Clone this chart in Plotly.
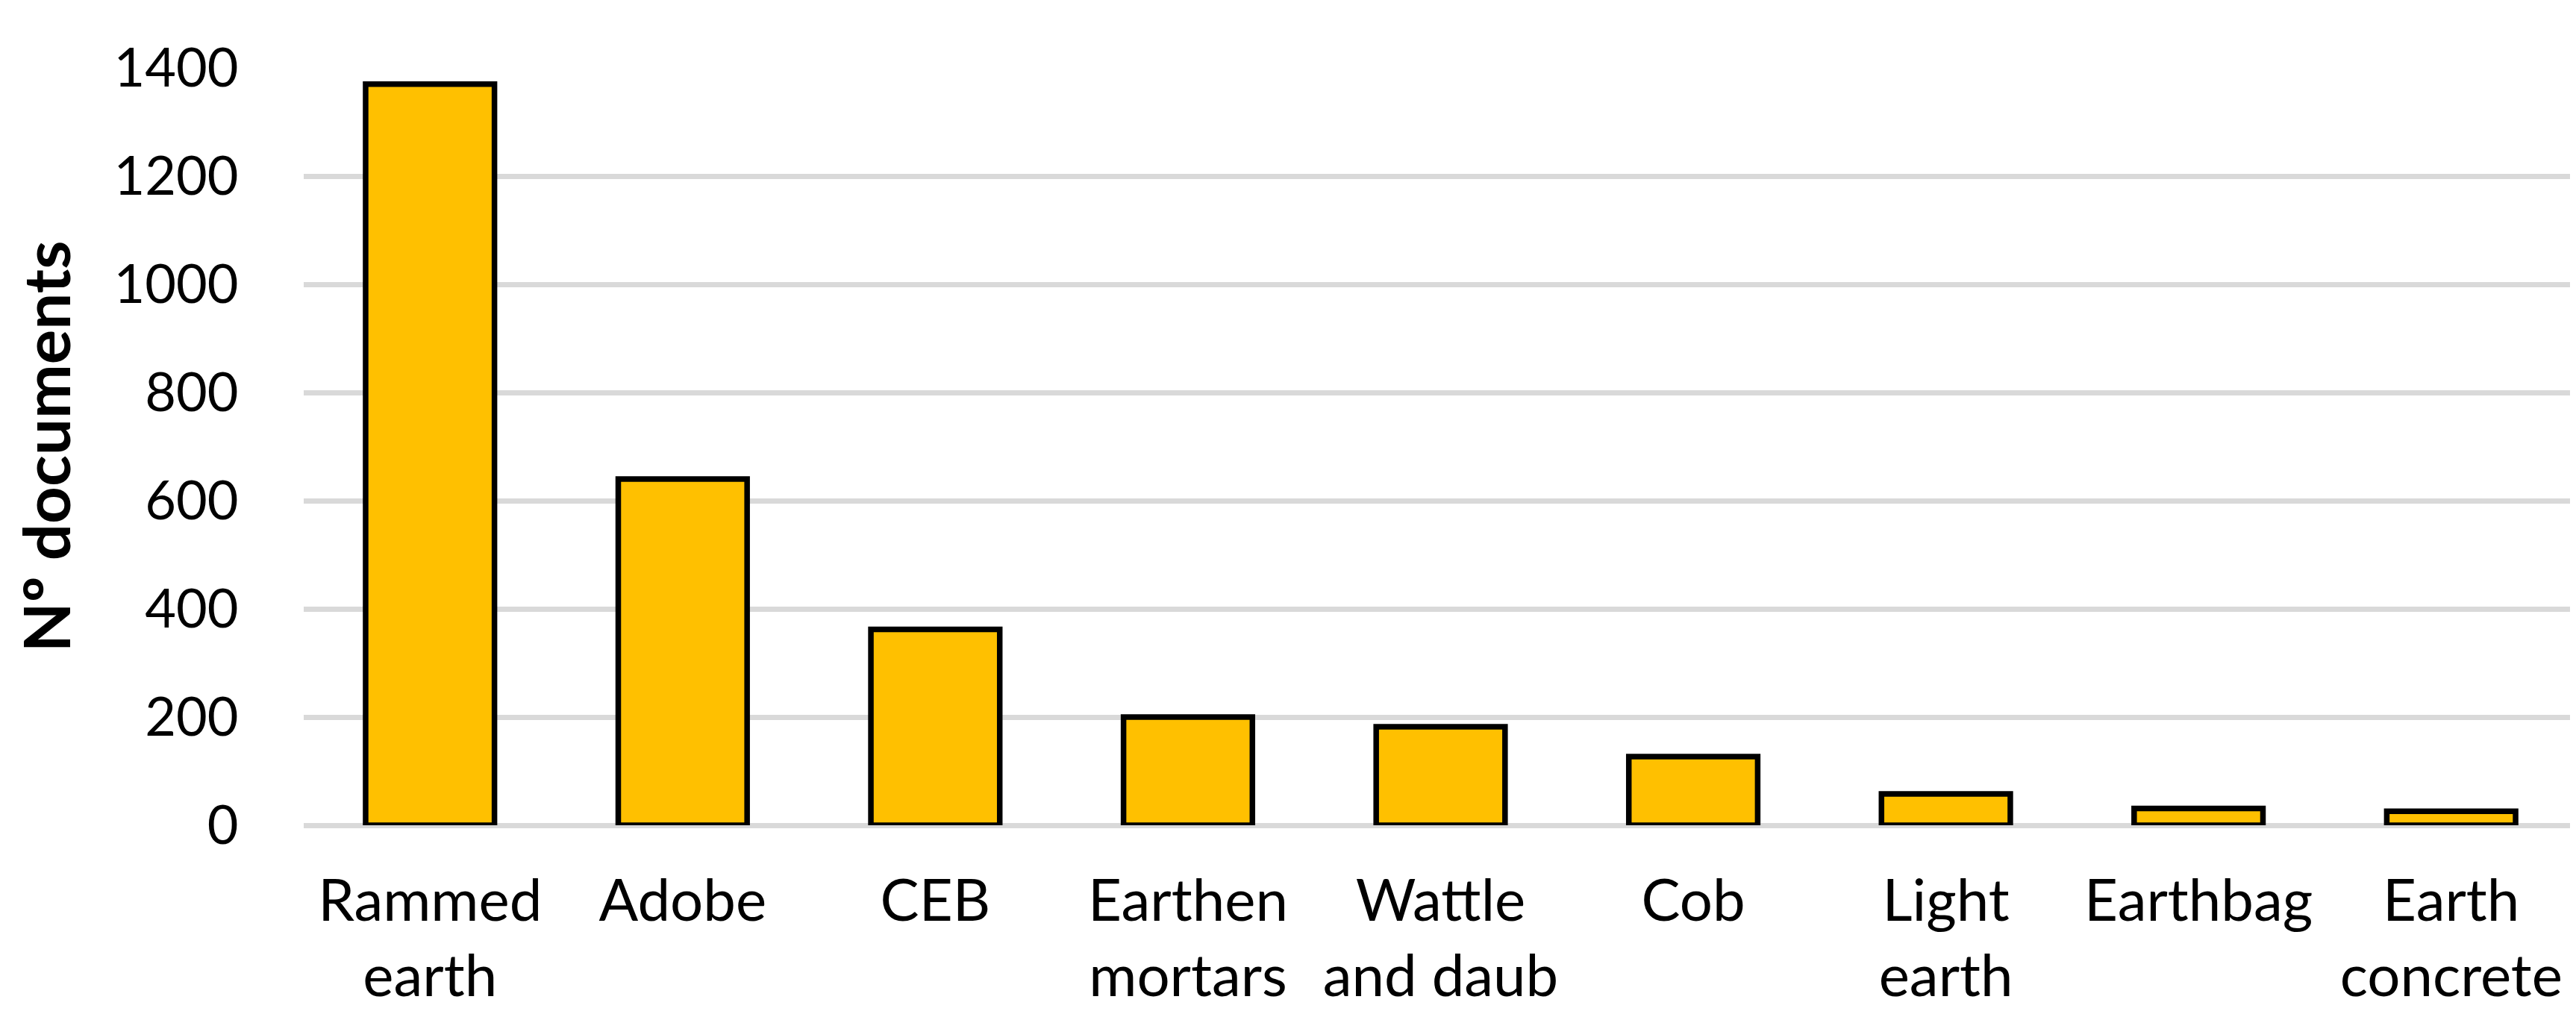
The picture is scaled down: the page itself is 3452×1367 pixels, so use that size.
import plotly.graph_objects as go

categories = ["Rammed<br>earth", "Adobe", "CEB", "Earthen<br>mortars", "Wattle<br>and daub",
              "Cob", "Light<br>earth", "Earthbag", "Earth<br>concrete"]
documents = [1370, 640, 362, 200, 182, 127, 58, 31, 26]
y_ticks = [0, 200, 400, 600, 800, 1000, 1200, 1400]

W, H = 3452, 1367
FONT = "Lato"

fig = go.Figure(go.Bar(
    x=categories,
    y=documents,
    marker=dict(color="#FFC000", line=dict(color="black", width=7.5)),
    width=0.51,
))

fig.update_layout(
    width=W, height=H,
    margin=dict(l=399, r=6, t=83, b=269),
    paper_bgcolor="white", plot_bgcolor="white",
    showlegend=False,
    font=dict(family=FONT, size=72, color="black"),
)
fig.update_xaxes(
    automargin=False,
    showgrid=False, showline=False, zeroline=False,
    ticks="outside", ticklen=33, tickcolor="rgba(0,0,0,0)",
    tickfont=dict(family=FONT, size=78, color="black"),
)
fig.update_yaxes(
    automargin=False,
    range=[0, 1400], tickvals=y_ticks,
    showgrid=True, gridcolor="#D9D9D9", gridwidth=7,
    zeroline=True, zerolinecolor="#D9D9D9", zerolinewidth=7,
    showline=False,
    ticks="outside", ticklen=72, tickcolor="rgba(0,0,0,0)",
    tickfont=dict(family=FONT, size=72, color="black"),
    title=dict(text="<b>Nº documents</b>", font=dict(family=FONT, size=87, color="black"), standoff=72),
)

fig.write_html("out.html")
